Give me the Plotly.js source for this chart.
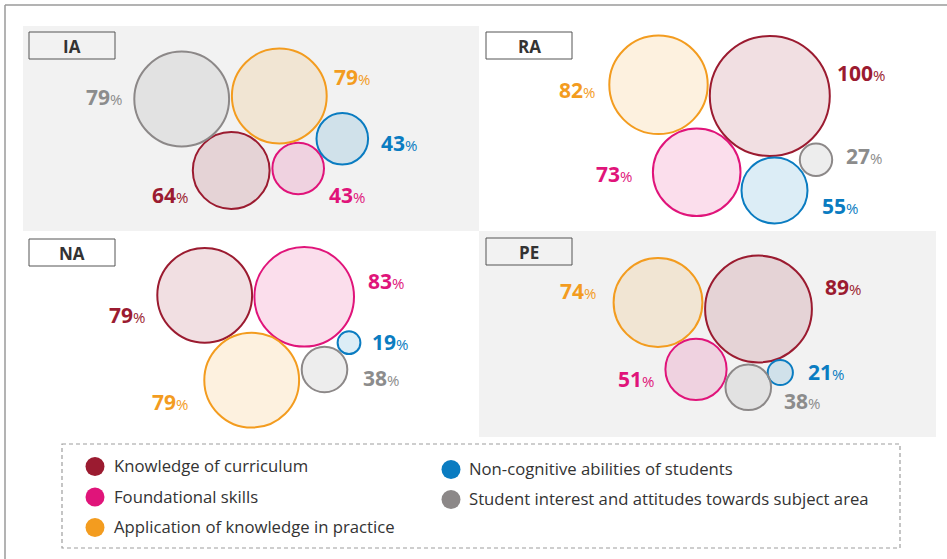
<!DOCTYPE html>
<html>
<head>
<meta charset="utf-8">
<script src="https://cdn.plot.ly/plotly-3.0.1.min.js"></script>
<style>html,body{margin:0;padding:0;background:#fff;}#chart{width:947px;height:559px;}</style>
</head>
<body>
<div id="chart"></div>
<script>
// ---------- DATA ----------
const categories = [
  "Knowledge of curriculum",
  "Foundational skills",
  "Application of knowledge in practice",
  "Non-cognitive abilities of students",
  "Student interest and attitudes towards subject area"
];
const panelNames = ["IA", "RA", "NA", "PE"];
const valuesIA = [64, 43, 79, 43, 79];
const valuesRA = [100, 73, 82, 55, 27];
const valuesNA = [79, 83, 79, 19, 38];
const valuesPE = [89, 51, 74, 21, 38];

// ---------- STYLE / LAYOUT ----------
const colors = ["#9b1b30", "#e0147a", "#f39c1f", "#0a7cc1", "#8c8888"];
const fills  = ["rgba(155,27,48,0.2)", "rgba(224,20,122,0.2)", "rgba(243,156,31,0.2)", "rgba(10,124,193,0.2)", "rgba(140,136,136,0.22)"];
const labelColors = ["#9b1b30", "#e0147a", "#f39c1f", "#0a7cc1", "#8c8c8c"];
const diamPerPct = 1.2;

const panelBoxes = {
  IA: {x0: 23,  y0: 26,  x1: 479, y1: 231, bg: "#f2f2f2", tag: [29, 32]},
  RA: {x0: 479, y0: 26,  x1: 947, y1: 231, bg: "#ffffff", tag: [486, 32]},
  NA: {x0: 23,  y0: 231, x1: 479, y1: 437, bg: "#ffffff", tag: [29, 239]},
  PE: {x0: 479, y0: 231, x1: 936, y1: 437, bg: "#f2f2f2", tag: [486, 238]}
};
// bubble centres (per category order)
const centres = {
  IA: [[231.2,170.5],[298.2,168.5],[279.3,96],[342.3,138.8],[181.7,99]],
  RA: [[769.8,96],[696.7,172.2],[658.5,84.8],[774.5,190.5],[816,159.8]],
  NA: [[204.7,295.3],[304.2,296.8],[251.7,380.2],[349,342.7],[324.5,369.5]],
  PE: [[758.5,309],[696,369.3],[658,302.5],[780.3,372.5],[748.3,387.3]]
};
// label anchors [x, y, side]
const labelPos = {
  IA: [[189,195,"right"],[328,195,"left"],[333,77,"left"],[380,143,"left"],[123,97,"right"]],
  RA: [[836,73,"left"],[633,174,"right"],[596,90,"right"],[821,206,"left"],[845,156,"left"]],
  NA: [[146,315,"right"],[367,281,"left"],[189,402,"right"],[371,342,"left"],[362,378,"left"]],
  PE: [[824,287,"left"],[655,379,"right"],[597,291,"right"],[807,372,"left"],[783,401,"left"]]
};
const legendCols = [{x: 95, text: 112, rows: [0,1,2], y0: 466.5, dy: 30.5},
                    {x: 451, text: 467, rows: [3,4], y0: 469.5, dy: 30}];

const panelValues = {IA: valuesIA, RA: valuesRA, NA: valuesNA, PE: valuesPE};
const FONT = "Open Sans, Lato, sans-serif";

const traces = [];
const annotations = [];
const shapes = [];

// outer frame
shapes.push({type: "line", xref: "x", yref: "y", x0: 5, x1: 5, y0: 5, y1: 559, line: {color: "#9a9a9a", width: 1.5}, layer: "below"});
shapes.push({type: "line", xref: "x", yref: "y", x0: 5, x1: 947, y0: 5, y1: 5, line: {color: "#9a9a9a", width: 1.5}, layer: "below"});

panelNames.forEach(p => {
  const b = panelBoxes[p];
  if (b.bg !== "#ffffff") {
    shapes.push({type: "rect", xref: "x", yref: "y", x0: b.x0, x1: b.x1, y0: b.y0, y1: b.y1,
      fillcolor: b.bg, line: {width: 0}, layer: "below"});
  }
  const t = b.tag;
  shapes.push({type: "rect", xref: "x", yref: "y", x0: t[0], x1: t[0] + 86, y0: t[1], y1: t[1] + 27,
    fillcolor: "rgba(0,0,0,0)", line: {color: "#555555", width: 1}, layer: "above"});
  annotations.push({xref: "x", yref: "y", x: t[0] + 43, y: t[1] + 14, text: "<b>" + p + "</b>",
    showarrow: false, xanchor: "center", yanchor: "middle",
    font: {family: FONT, size: 17, color: "#333333"}});

  const vals = panelValues[p];
  const c = centres[p];
  // translucent fills
  traces.push({
    type: "scatter", mode: "markers", showlegend: false, hoverinfo: "skip",
    x: c.map(d => d[0]), y: c.map(d => d[1]),
    marker: {size: vals.map(v => v * diamPerPct), sizemode: "diameter", color: fills,
      line: {width: 0}}
  });
  // solid outlines
  traces.push({
    type: "scatter", mode: "markers", showlegend: false, hoverinfo: "skip",
    x: c.map(d => d[0]), y: c.map(d => d[1]),
    marker: {size: vals.map(v => v * diamPerPct), sizemode: "diameter", color: colors,
      symbol: "circle-open", line: {width: 2}, opacity: 1}
  });
  vals.forEach((v, i) => {
    const lp = labelPos[p][i];
    annotations.push({xref: "x", yref: "y", x: lp[0], y: lp[1],
      text: "<b>" + v + "</b><span style=\"font-size:15px\">%</span>",
      showarrow: false, xanchor: lp[2], yanchor: "middle", borderpad: 0,
      font: {family: FONT, size: 21, color: labelColors[i]}});
  });
});

// legend
shapes.push({type: "rect", xref: "x", yref: "y", x0: 62, x1: 900, y0: 444, y1: 548,
  fillcolor: "rgba(0,0,0,0)", line: {color: "#9e9e9e", width: 1.2, dash: "4px,3px"}});
legendCols.forEach(col => {
  traces.push({
    type: "scatter", mode: "markers", showlegend: false, hoverinfo: "skip",
    x: col.rows.map(() => col.x), y: col.rows.map((r, k) => col.y0 + k * col.dy),
    marker: {size: 19, color: col.rows.map(r => colors[r]), line: {width: 0}}
  });
  col.rows.forEach((r, k) => {
    annotations.push({xref: "x", yref: "y", x: col.text, y: col.y0 + k * col.dy - 1,
      text: categories[r], showarrow: false, xanchor: "left", yanchor: "middle",
      font: {family: FONT, size: 16.7, color: "#333333"}});
  });
});

const layout = {
  width: 947, height: 559, autosize: false,
  margin: {l: 0, r: 0, t: 0, b: 0, pad: 0},
  paper_bgcolor: "#ffffff", plot_bgcolor: "rgba(0,0,0,0)",
  xaxis: {range: [0, 947], visible: false, fixedrange: true},
  yaxis: {range: [559, 0], visible: false, fixedrange: true},
  shapes: shapes, annotations: annotations, showlegend: false
};
Plotly.newPlot("chart", traces, layout, {displayModeBar: false, staticPlot: true});
</script>
</body>
</html>
